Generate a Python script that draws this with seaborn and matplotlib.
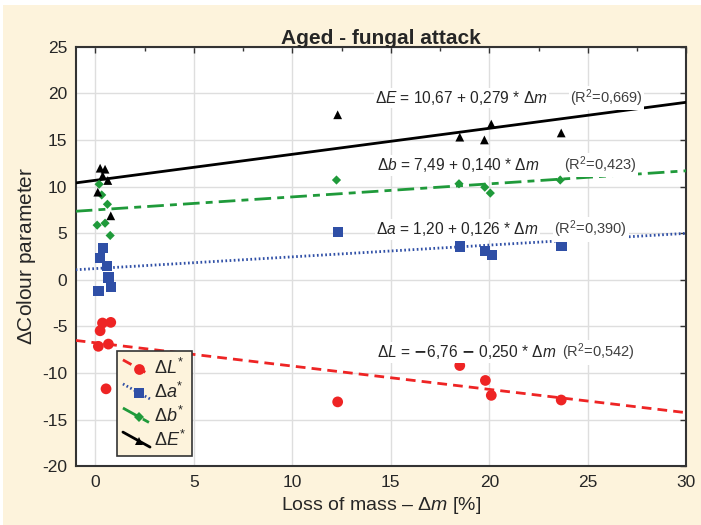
import numpy as np
import pandas as pd
import matplotlib
matplotlib.use('Agg')
import matplotlib.pyplot as plt
from matplotlib.lines import Line2D
from matplotlib.patches import Rectangle
from matplotlib.legend_handler import HandlerLine2D
import seaborn as sns

# loss of mass [%] for each parameter's samples
mass_loss_E = [0.24, 0.49, 0.37, 0.63, 0.12, 0.78, 12.3, 18.5, 19.75, 20.1, 23.65]
mass_loss_b = [0.19, 0.32, 0.61, 0.49, 0.09, 0.75, 12.24, 18.46, 19.77, 20.05, 23.6]
mass_loss_a = [0.39, 0.25, 0.58, 0.66, 0.15, 0.8, 12.3, 18.5, 19.77, 20.14, 23.67]
mass_loss_L = [0.36, 0.78, 0.24, 0.15, 0.66, 0.54, 12.3, 18.5, 19.8, 20.1, 23.65]

dE = [11.97, 11.86, 11.15, 10.65, 9.4, 6.86, 17.7, 15.3, 15.0, 16.7, 15.75]
db = [10.25, 9.1, 8.1, 6.07, 5.86, 4.75, 10.7, 10.3, 9.93, 9.3, 10.7]
da = [3.4, 2.32, 1.5, 0.25, -1.18, -0.78, 5.1, 3.57, 3.1, 2.68, 3.64]
dL = [-4.64, -4.57, -5.47, -7.14, -6.9, -11.7, -13.1, -9.2, -10.8, -12.4, -12.9]

# regression coefficients as printed on the chart
intercepts = {'dL': -6.76, 'da': 1.20, 'db': 7.49, 'dE': 10.67}
slopes = {'dL': -0.250, 'da': 0.126, 'db': 0.140, 'dE': 0.279}

x_range = [-1, 30]

colors = {'dL': '#ee2424', 'da': '#2f4fa6', 'db': '#1f9a3a', 'dE': '#000000'}
markers = {'dL': 'o', 'da': 's', 'db': 'D', 'dE': '^'}
msizes = {'dL': 60, 'da': 55, 'db': 22, 'dE': 40}
lstyles = {'dL': (0, (3.5, 2.2)), 'da': (0, (0.6, 0.9)),
           'db': (0, (6, 2.2, 2.5, 2.2)), 'dE': '-'}
labels = {'dL': r'$\Delta \mathit{L}^{*}$', 'da': r'$\Delta \mathit{a}^{*}$',
          'db': r'$\Delta \mathit{b}^{*}$', 'dE': r'$\Delta \mathit{E}^{*}$'}

points = pd.DataFrame({
    'x': mass_loss_L + mass_loss_a + mass_loss_b + mass_loss_E,
    'y': dL + da + db + dE,
    'param': ['dL'] * 11 + ['da'] * 11 + ['db'] * 11 + ['dE'] * 11,
})


class SlantHandler(HandlerLine2D):
    # legend handle drawn as a slanted line with the marker in the middle
    def create_artists(self, legend, orig_handle, xdescent, ydescent,
                       width, height, fontsize, trans):
        x0, x1 = -xdescent, width - xdescent
        yc = height / 2 - ydescent
        line = Line2D([x0, x1], [yc + height * 0.5, yc - height * 0.5])
        self.update_prop(line, orig_handle, legend)
        line.set_marker('None')
        mk = Line2D([x0 + (x1 - x0) * 0.6], [yc - height * 0.1])
        self.update_prop(mk, orig_handle, legend)
        mk.set_linestyle('None')
        line.set_transform(trans)
        mk.set_transform(trans)
        return [line, mk]


sns.set_style('white')
plt.rcParams['font.family'] = ['Liberation Sans', 'DejaVu Sans']
plt.rcParams['mathtext.fontset'] = 'custom'
plt.rcParams['mathtext.rm'] = 'Liberation Sans'
plt.rcParams['mathtext.it'] = 'Liberation Sans:italic'
plt.rcParams['axes.unicode_minus'] = False

fig = plt.figure(figsize=(7.01, 5.25), dpi=100)
fig.patch.set_facecolor('white')
fig.patches.append(Rectangle((0.004, 0), 0.996, 0.99, transform=fig.transFigure,
                             facecolor='#fdf3dc', edgecolor='none', zorder=-10))
ax = fig.add_axes([0.108, 0.112, 0.871, 0.799])
ax.set_facecolor('white')

for key in ['dL', 'da', 'db', 'dE']:
    line = pd.DataFrame({'x': x_range,
                         'y': [intercepts[key] + slopes[key] * v for v in x_range]})
    sns.lineplot(data=line, x='x', y='y', ax=ax, color=colors[key],
                 linestyle=lstyles[key], linewidth=2.0, zorder=3)
    sub = points[points['param'] == key]
    sns.scatterplot(data=sub, x='x', y='y', ax=ax, color=colors[key],
                    marker=markers[key], s=msizes[key], edgecolor='none',
                    linewidth=0, zorder=4, legend=False)

ax.set_xlim(-1, 30)
ax.set_ylim(-20, 25)
ax.set_xticks(np.arange(0, 31, 5))
ax.set_yticks(np.arange(-20, 26, 5))
ax.set_xticks(np.arange(0, 30, 2.5), minor=True)
ax.grid(True, which='major', color='#dedede', linewidth=1.0)
ax.set_axisbelow(True)
ax.tick_params(which='both', direction='in', top=True, right=True,
               length=4, width=1, color='#333333', labelsize=12.5, pad=6)
ax.tick_params(which='minor', length=3)
for sp in ax.spines.values():
    sp.set_color('#333333')
    sp.set_linewidth(1.5)

ax.set_xlabel(r'Loss of mass – $\Delta\mathit{m}$ [%]', fontsize=14, labelpad=4)
ax.set_ylabel(r'$\Delta$Colour parameter', fontsize=15, labelpad=3)
fig.text(0.543, 0.927, 'Aged - fungal attack', ha='center', va='center',
         fontsize=15, fontweight='bold')

# equations with R2
eqs = [
    (14.2, 19.5, r'$\Delta \mathit{E}$ = 10,67 + 0,279 * $\Delta \mathit{m}$', 24.1, '0,669'),
    (14.3, 12.3, r'$\Delta \mathit{b}$ = 7,49 + 0,140 * $\Delta \mathit{m}$', 23.8, '0,423'),
    (14.25, 5.4, r'$\Delta \mathit{a}$ = 1,20 + 0,126 * $\Delta \mathit{m}$', 23.3, '0,390'),
    (14.3, -7.8, r'$\Delta \mathit{L}$ = $\mathbf{-}$6,76 $\mathbf{-}$ 0,250 * $\Delta \mathit{m}$', 23.7, '0,542'),
]
for ex, ey, txt, rx, r2 in eqs:
    ax.text(ex, ey, txt, fontsize=11.2, ha='left', va='center', zorder=5,
            bbox=dict(facecolor='white', edgecolor='none', pad=1))
    ax.text(rx, ey, r'(R$^2$=' + r2 + ')', fontsize=10.5, color='#404040',
            ha='left', va='center', zorder=5,
            bbox=dict(facecolor='white', edgecolor='none', pad=1))

handles = []
for key in ['dL', 'da', 'db', 'dE']:
    handles.append(Line2D([0], [0], color=colors[key], linestyle=lstyles[key],
                          linewidth=2.0, marker=markers[key],
                          markersize=np.sqrt(msizes[key]), markeredgewidth=0))
leg = ax.legend(handles, [labels[k] for k in ['dL', 'da', 'db', 'dE']],
                handler_map={Line2D: SlantHandler()},
                loc='lower left', bbox_to_anchor=(0.067, 0.024), fontsize=13,
                frameon=True, fancybox=False, edgecolor='#333333',
                handlelength=1.5, handleheight=0.9, handletextpad=0.2,
                borderpad=0.35, labelspacing=0.22, borderaxespad=0)
leg.get_frame().set_facecolor('#fdf3dc')
leg.get_frame().set_linewidth(1.2)
leg.get_frame().set_alpha(1)

fig.savefig('out.png', dpi=100)
